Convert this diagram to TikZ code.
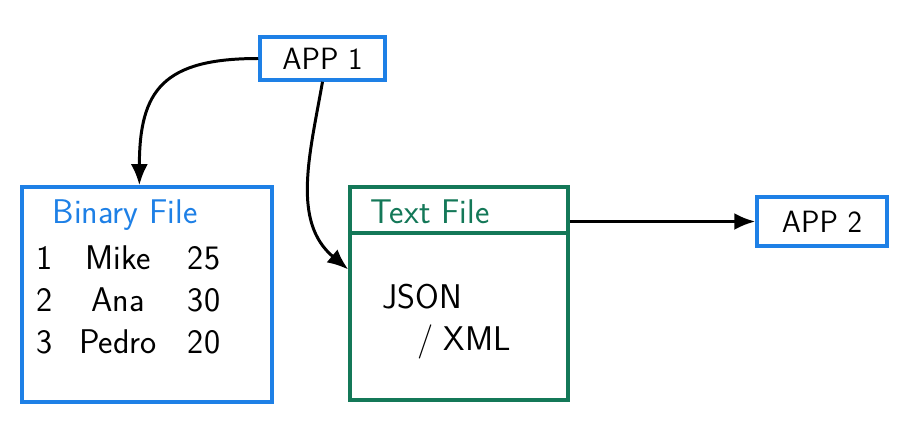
\documentclass[tikz,border=0pt]{standalone}
\usepackage{tikz}
\usetikzlibrary{arrows,arrows.meta,shapes}
\usepackage{color}
\definecolor{appblue}{RGB}{30,128,230}
\definecolor{filegreen}{RGB}{20,120,88}

\begin{document}
\begin{tikzpicture}[appnode/.style={rectangle, draw=appblue, line width=2pt, inner sep=0pt, minimum width=2.5cm, minimum height=0.86cm, font=\sffamily\fontsize{17.5}{20}\selectfont},
    binbox/.style={rectangle, draw=appblue, line width=2pt, inner sep=0pt, minimum width=5cm, minimum height=4.3cm},
    txtbox/.style={rectangle, draw=filegreen, line width=2pt, inner sep=0pt, minimum width=4.36cm},
    cell/.style={inner sep=0pt, font=\sffamily\fontsize{19.5}{22}\selectfont},
    link/.style={-{Latex[length=4.2mm,width=3.4mm]}, line width=1.7pt}]

    \useasboundingbox (0,0) rectangle (18.34,8.88);

    %\foreach \r in {1,2,3} ...
    \node[appnode](app1) at (6.45,7.71) {APP 1};
    \node[appnode, minimum width=2.6cm, minimum height=0.98cm](app2) at (16.44,4.45) {APP 2};

    % binary file
    \node[binbox](binary) at (2.94,2.99) {};
    \node[cell, text=appblue](btitle) at (2.5,4.58) {Binary File};
    \node[cell](r1a) at (0.9,3.72) {1};
    \node[cell](r1b) at (2.36,3.72) {Mike};
    \node[cell](r1c) at (4.08,3.72) {25};
    \node[cell](r2a) at (0.9,2.88) {2};
    \node[cell](r2b) at (2.36,2.88) {Ana};
    \node[cell](r2c) at (4.08,2.88) {30};
    \node[cell](r3a) at (0.9,2.04) {3};
    \node[cell](r3b) at (2.36,2.04) {Pedro};
    \node[cell](r3c) at (4.08,2.04) {20};

    % text file
    \node[txtbox, minimum height=0.92cm](theader) at (9.18,4.68) {};
    \node[txtbox, minimum height=3.34cm](tbody) at (9.18,2.55) {};
    \node[cell, text=filegreen](ttitle) at (8.6,4.64) {Text File};
    \node[cell](tjson) at (8.44,2.94) {JSON};
    \node[cell](txml) at (9.28,2.04) {/ XML};

    \draw[link] (app1.west) to[out=180, in=90, looseness=1.4] (binary.94);
    \draw[link] (app1.south) to[out=-100, in=140] (tbody.157);
    \draw[link] (theader.east |- app2.west) -- (app2.west);

\end{tikzpicture}
\end{document}
